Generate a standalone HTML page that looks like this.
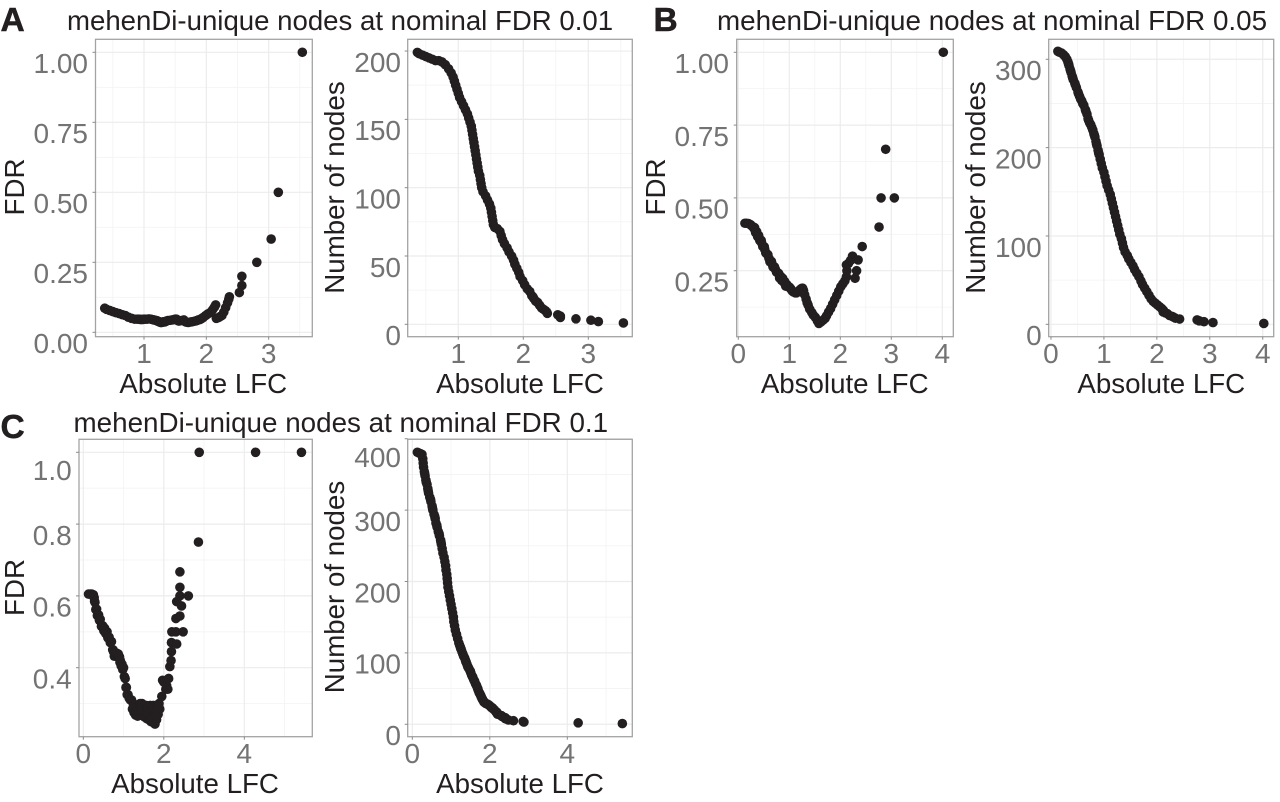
<!DOCTYPE html>
<html lang="en">
<head>
<meta charset="utf-8">
<title>mehenDi-unique nodes</title>
<style>
html,body{margin:0;padding:0;background:#fff;}
svg{display:block;font-family:"Liberation Sans",Arial,sans-serif;}
</style>
</head>
<body>
<svg id="figure" width="1280" height="802" viewBox="0 0 1280 802" xmlns="http://www.w3.org/2000/svg">
  <text x="0.5" y="31" font-size="33.5" font-weight="bold" fill="#231f20" stroke="#231f20" stroke-width="0.5">A</text>
  <text x="653.5" y="31" font-size="33.5" font-weight="bold" fill="#231f20" stroke="#231f20" stroke-width="0.5">B</text>
  <text x="0.5" y="438" font-size="33.5" font-weight="bold" fill="#231f20" stroke="#231f20" stroke-width="0.5">C</text>
  <text x="67" y="30" font-size="27.6" fill="#231f20">mehenDi-unique nodes at nominal FDR 0.01</text>
  <text x="717" y="30" font-size="27.8" fill="#231f20">mehenDi-unique nodes at nominal FDR 0.05</text>
  <text x="73.5" y="432" font-size="27.8" fill="#231f20">mehenDi-unique nodes at nominal FDR 0.1</text>
</svg>
<script>
const lfcA = [.37,.40,.45,.50,.55,.60,.65,.70,.75,.80,.85,.89,.92,.94,.96,.98,1.0,1.02,1.05,1.08,1.11,1.14,1.16,1.18,1.20,1.21,1.22,1.23,1.24,1.25,1.26,1.27,1.28,1.29,1.30,1.31,1.33,1.34,1.35,1.36,1.38,1.42,1.45,1.48,1.50,1.51,1.52,1.53,1.54,1.56,1.60,1.64,1.66,1.68,1.71,1.75,1.78,1.82,1.85,1.87,1.90,1.93,1.95,1.99,2.02,2.06,2.10,2.13,2.15,2.16,2.19,2.22,2.25,2.28,2.31,2.34,2.36,2.37,2.53,2.57,2.57,2.81,3.04,3.155,3.54];
const fdrA = [.086,.082,.078,.074,.070,.067,.063,.060,.054,.050,.047,.047,.047,.046,.046,.046,.047,.047,.047,.048,.047,.045,.044,.043,.042,.041,.040,.039,.038,.037,.036,.035,.035,.036,.037,.037,.037,.038,.039,.040,.042,.043,.044,.045,.047,.047,.047,.045,.042,.040,.042,.044,.038,.036,.035,.037,.038,.040,.042,.044,.046,.050,.053,.060,.065,.070,.080,.090,.098,.05,.052,.056,.060,.072,.088,.105,.118,.127,.142,.167,.2,.25,.333,.5,1];
const nodesA = [199,198,197,196,195,194,193,193,192,190,187,184,181,178,175,172,169,166,163,160,157,154,151,148,145,142,139,136,133,130,127,124,121,118,115,112,109,106,103,100,97,94,91,88,85,82,79,76,73,71,70,68,65,62,59,56,53,50,47,44,41,38,35,32,29,26,24,21,20,19,17,16,14,12,11,10,9,8,7,6,5,4,3,2,1];

const lfcB = [.13,.16,.20,.24,.27,.30,.32,.34,.36,.38,.40,.42,.45,.48,.51,.54,.58,.62,.65,.68,.71,.75,.79,.81,.83,.85,.87,.89,.91,.93,.95,.97,1.0,1.02,1.04,1.06,1.09,1.12,1.14,1.16,1.18,1.20,1.22,1.24,1.26,1.28,1.30,1.33,1.35,1.37,1.40,1.44,1.47,1.51,1.55,1.58,1.62,1.66,1.70,1.73,1.77,1.81,1.85,1.89,1.93,1.97,2.01,2.05,2.09,2.12,2.13,2.12,2.16,2.20,2.24,2.29,2.32,2.35,2.43,2.76,2.80,2.89,3.06,4.02,.33,.37,.41,.46,.52,.56,.60,.66,.70,.73,.77,.82,.86,.90];
const fdrB = [.413,.413,.412,.408,.403,.397,.398,.381,.384,.367,.371,.354,.354,.333,.332,.311,.305,.281,.282,.263,.263,.245,.241,.225,.231,.217,.224,.211,.213,.197,.203,.196,.194,.190,.185,.180,.176,.174,.174,.176,.179,.183,.186,.189,.190,.182,.168,.153,.140,.132,.118,.107,.098,.090,.078,.069,.074,.080,.086,.095,.108,.120,.135,.150,.165,.180,.195,.205,.215,.229,.25,.27,.275,.285,.30,.224,.25,.287,.333,.40,.5,.667,.5,1,.389,.375,.362,.345,.323,.308,.293,.274,.261,.254,.243,.228,.22,.212];
const nodesB = [309,308,307,305,303,300,297,293,289,285,281,277,273,268,263,258,253,248,243,238,231,226,220,216,212,207,202,197,192,187,182,177,172,167,162,157,152,147,142,137,132,127,122,117,112,107,102,97,92,87,82,78,74,70,66,62,58,54,49,45,41,37,33,29,26,24,22,20,18,16,15,14,13,12,10,9,8,7,6,5,4,3,2,1,295,287,279,271,261,255,250,241,233,228,223,214,204,194];

const lfcC = [.13,.17,.21,.25,.27,.28,.29,.31,.33,.35,.38,.40,.42,.45,.48,.51,.53,.56,.59,.61,.64,.67,.70,.73,.75,.77,.79,.82,.84,.86,.87,.89,.90,.91,.92,.94,.96,.98,1.00,1.02,1.04,1.06,1.07,1.09,1.11,1.14,1.17,1.20,1.22,1.24,1.26,1.28,1.30,1.32,1.35,1.37,1.39,1.41,1.43,1.46,1.49,1.51,1.53,1.56,1.58,1.61,1.63,1.66,1.68,1.70,1.72,1.74,1.76,1.78,1.80,1.82,1.84,1.86,1.88,1.90,1.95,1.97,2.00,2.03,2.05,2.07,2.10,2.12,2.15,2.18,2.19,2.19,2.20,2.30,2.30,2.32,2.32,2.40,2.40,2.40,2.40,2.44,2.48,2.61,2.86,2.88,4.28,5.42,1.25,1.33,1.38,1.44,1.50,1.55,1.60,1.65,1.69,1.73,1.77,1.81,1.85,.32,.36,.41,.47,.52,.58,.63,.69,.74];
const fdrC = [.605,.605,.605,.603,.595,.585,.582,.562,.563,.545,.547,.532,.535,.515,.517,.503,.51,.495,.5,.483,.485,.47,.473,.45,.445,.432,.44,.432,.44,.43,.438,.428,.43,.415,.42,.405,.41,.395,.40,.375,.37,.345,.345,.325,.325,.315,.31,.31,.285,.30,.275,.295,.268,.29,.265,.295,.268,.30,.272,.30,.265,.295,.262,.295,.258,.29,.255,.295,.25,.28,.248,.295,.265,.243,.28,.255,.295,.27,.30,.285,.32,.365,.36,.36,.34,.35,.34,.37,.403,.42,.445,.47,.5,.5,.537,.466,.584,.544,.6,.624,.667,.572,.5,.6,.75,1,1,1,.285,.28,.282,.285,.28,.278,.272,.272,.265,.27,.275,.268,.283,.563,.547,.534,.516,.506,.497,.484,.472,.45];
const nodesC = [381,380,379,378,372,366,360,354,348,342,336,330,324,318,312,306,300,294,288,282,276,270,264,258,252,246,240,234,228,222,216,210,204,198,192,186,180,174,168,162,156,150,144,138,132,126,120,114,111,108,105,102,99,96,93,90,87,84,81,78,75,72,69,66,63,60,57,54,51,48,45,43,41,38,36,34,32,31,30,29,28,27,26,24,23,23,21,20,18,17,16,15,14,12,12,11,11,9,9,8,8,7,6,5,4,3,2,1,106,95,88,80,74,67,61,55,50,44,40,35,31,351,339,327,315,303,291,279,267,255];

const xTicks1A = [1,2,3];
const xTicks2A = [1,2,3];
const xTicksB = [0,1,2,3,4];
const xTicksC = [0,2,4];
const yTicksFdrA = [0,.25,.5,.75,1];
const yLabelsFdrA = ['0.00','0.25','0.50','0.75','1.00'];
const yTicksNodesA = [0,50,100,150,200];
const yTicksFdrB = [.25,.5,.75,1];
const yLabelsFdrB = ['0.25','0.50','0.75','1.00'];
const yTicksNodesB = [0,100,200,300];
const yTicksFdrC = [.4,.6,.8,1];
const yLabelsFdrC = ['0.4','0.6','0.8','1.0'];
const yTicksNodesC = [0,100,200,300,400];

const panels = [
  {id:'a-fdr', xs:lfcA, ys:fdrA, box:[95.5,312.3,39.3,336.7], xd:[.222,3.70], yd:[-.0157,1.0464], xt:xTicks1A, yt:yTicksFdrA, yl:yLabelsFdrA, title:'FDR', tx:24, ty:187, xtx:203.3, xty:393, lr:88, shift:{}},
  {id:'a-nodes', xs:lfcA, ys:nodesA, box:[407.7,632.3,39.3,336.7], xd:[.2215,3.677], yd:[-9.07,208.6], xt:xTicks2A, yt:yTicksNodesA, yl:yTicksNodesA.map(String), title:'Number of nodes', tx:344, ty:187.5, xtx:520, xty:393, lr:401, shift:{}},
  {id:'b-fdr', xs:lfcB, ys:fdrB, box:[736.7,953.3,39.3,336.7], xd:[-.031,4.216], yd:[.0234,1.0446], xt:xTicksB, yt:yTicksFdrB, yl:yLabelsFdrB, title:'FDR', tx:665, ty:187, xtx:844.7, xty:393, lr:729, shift:{}},
  {id:'b-nodes', xs:lfcB, ys:nodesB, box:[1048.7,1273.7,39.3,336.7], xd:[-.043,4.207], yd:[-14,322.6], xt:xTicksB, yt:yTicksNodesB, yl:yTicksNodesB.map(String), title:'Number of nodes', tx:985, ty:187.5, xtx:1161.3, xty:393, lr:1041.7, shift:{}},
  {id:'c-fdr', xs:lfcC, ys:fdrC, box:[79,312.3,439.3,736.7], xd:[-.107,5.689], yd:[.2078,1.0362], xt:xTicksC, yt:yTicksFdrC, yl:yLabelsFdrC, title:'FDR', tx:24, ty:587.5, xtx:195, xty:793, lr:71.7, shift:{'1.0':7}},
  {id:'c-nodes', xs:lfcC, ys:nodesC, box:[407.7,632.3,439.3,736.7], xd:[-.119,5.677], yd:[-17.4,399.2], xt:xTicksC, yt:yTicksNodesC, yl:yTicksNodesC.map(String), title:'Number of nodes', tx:344, ty:587, xtx:520, xty:793, lr:401, shift:{'400':7.5}}
];

const NS = 'http://www.w3.org/2000/svg';
const figure = document.getElementById('figure');

function shape(parent, tag, name, attrs, txt) {
  const el = document.createElementNS(NS, tag);
  
  
  for (const k in attrs) el.setAttribute(k, attrs[k]);
  if (txt !== undefined) el.textContent = txt;
  parent.appendChild(el);
  return el;
}

function makeScale(d0, d1, r0, r1) {
  return v => r0 + (v - d0) / (d1 - d0) * (r1 - r0);
}

function drawPanel(p) {
  const [l, r, t, b] = p.box;
  const x = makeScale(p.xd[0], p.xd[1], l, r);
  const y = makeScale(p.yd[0], p.yd[1], b, t);
  const g = shape(figure, 'g', 'plot-' + p.id, {});
  shape(g, 'rect', 'plot-background', {x:l, y:t, width:r-l, height:b-t, fill:'#fff'});

  const xStep = p.xt[1] - p.xt[0];
  const yStep = p.yt[1] - p.yt[0];
  for (let v = p.xt[0] - xStep / 2; v <= p.xd[1]; v += xStep) {
    if (v >= p.xd[0]) shape(g, 'line', 'x-minor-gridline', {x1:x(v), x2:x(v), y1:t, y2:b, stroke:'#f3f3f3', 'stroke-width':0.8});
  }
  for (let v = p.yt[0] - yStep / 2; v <= p.yd[1]; v += yStep) {
    if (v >= p.yd[0]) shape(g, 'line', 'y-minor-gridline', {x1:l, x2:r, y1:y(v), y2:y(v), stroke:'#f3f3f3', 'stroke-width':0.8});
  }
  p.xt.forEach(v => {
    shape(g, 'line', 'x-major-gridline', {x1:x(v), x2:x(v), y1:t, y2:b, stroke:'#ececec', 'stroke-width':1.2});
  });
  p.yt.forEach(v => {
    shape(g, 'line', 'y-major-gridline', {x1:l, x2:r, y1:y(v), y2:y(v), stroke:'#ececec', 'stroke-width':1.2});
  });

  const pts = shape(g, 'g', 'data-points', {fill:'#231f20'});
  p.xs.forEach((v, i) => {
    shape(pts, 'circle', 'point', {cx:x(v), cy:y(p.ys[i]), r:4.8});
  });

  shape(g, 'rect', 'plot-border', {x:l, y:t, width:r-l, height:b-t, fill:'none', stroke:'#a3a3a3', 'stroke-width':1.3});

  p.xt.forEach(v => {
    shape(g, 'line', 'x-tick', {x1:x(v), x2:x(v), y1:b, y2:b+3, stroke:'#8a8a8a', 'stroke-width':1});
    shape(g, 'text', 'x-tick-label', {x:x(v), y:t+323.7, 'text-anchor':'middle', 'font-size':28, fill:'#737373'}, String(v));
  });
  p.yt.forEach((v, i) => {
    const lab = p.yl[i];
    const dy = 20.8 + (p.shift[lab] || 0);
    shape(g, 'line', 'y-tick', {x1:l-3, x2:l, y1:y(v), y2:y(v), stroke:'#8a8a8a', 'stroke-width':1});
    shape(g, 'text', 'y-tick-label', {x:p.lr, y:y(v)+dy, 'text-anchor':'end', 'font-size':28, fill:'#737373'}, lab);
  });

  shape(g, 'text', 'x-axis-title', {x:p.xtx, y:p.xty, 'text-anchor':'middle', 'font-size':27.7, fill:'#231f20'}, 'Absolute LFC');
  shape(g, 'text', 'y-axis-title', {x:p.tx, y:p.ty, 'text-anchor':'middle', 'font-size':27.7, fill:'#231f20', transform:'rotate(-90 ' + p.tx + ' ' + p.ty + ')'}, p.title);
}

panels.forEach(drawPanel);
</script>
</body>
</html>
